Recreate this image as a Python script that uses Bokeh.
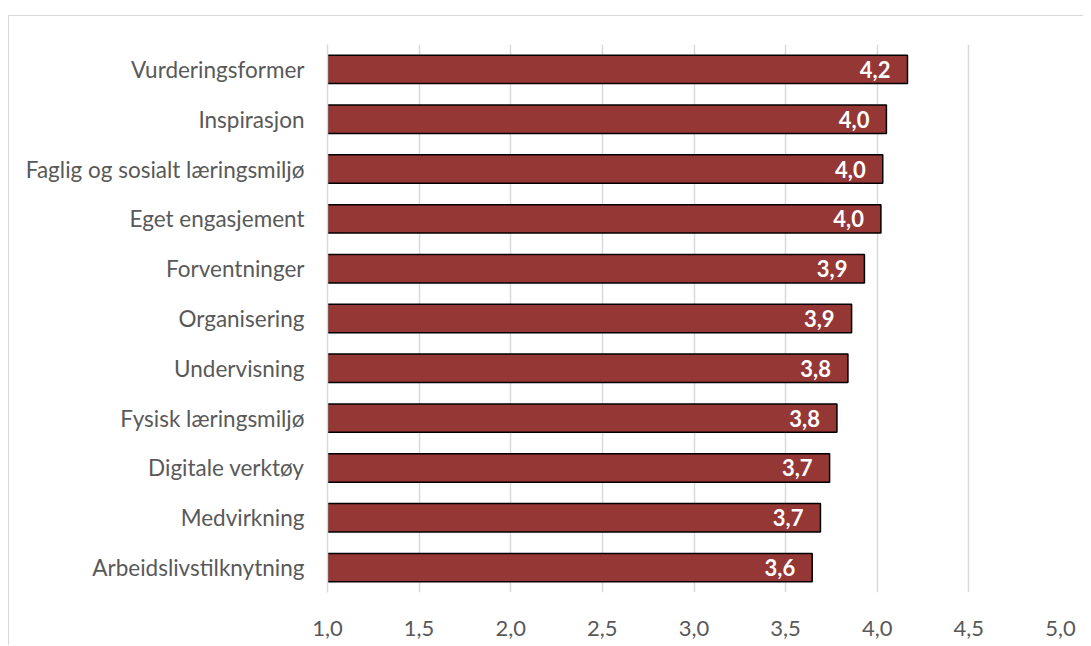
from bokeh.plotting import figure
from bokeh.models import ColumnDataSource, Range1d, FactorRange, SingleIntervalTicker, CustomJSTickFormatter, LabelSet
from bokeh.core.properties import value
from bokeh.embed import file_html
from bokeh.resources import INLINE

categories = ["Vurderingsformer", "Inspirasjon", "Faglig og sosialt læringsmiljø", "Eget engasjement",
              "Forventninger", "Organisering", "Undervisning", "Fysisk læringsmiljø",
              "Digitale verktøy", "Medvirkning", "Arbeidslivstilknytning"]
values = [4.165, 4.05, 4.03, 4.02, 3.93, 3.86, 3.84, 3.78, 3.74, 3.69, 3.645]
labels = [f"{v:.1f}".replace(".", ",") for v in values]

FONT = "Lato"
GRAY = "#595959"

src = ColumnDataSource(dict(cat=categories, val=values, lab=labels))

p = figure(width=1075, height=630, output_backend="svg", toolbar_location=None,
           y_range=FactorRange(*reversed(categories), range_padding=0),
           x_range=Range1d(1.0, 5.0),
           min_border_left=318, min_border_right=24, min_border_top=28, min_border_bottom=54)
p.styles = {"margin-left": "8px", "margin-top": "15px",
            "border-left": "1px solid #d9d9d9", "border-top": "1px solid #d9d9d9"}

p.hbar(y="cat", left=1.0, right="val", height=0.57, source=src,
       fill_color="#953735", line_color="black", line_width=1.5)

p.add_layout(LabelSet(x="val", y="cat", text="lab", source=src, x_offset=-17, y_offset=0,
                      text_align="right", text_baseline="middle", text_color="white",
                      text_font=value(FONT), text_font_style="bold", text_font_size="22px"))

p.xaxis.ticker = SingleIntervalTicker(interval=0.5)
p.xaxis.formatter = CustomJSTickFormatter(code="return tick.toFixed(1).replace('.', ',');")
p.xaxis.axis_line_color = None
p.xaxis.major_tick_line_color = None
p.xaxis.minor_tick_line_color = None
p.xaxis.major_label_standoff = 22
p.xaxis.major_label_text_font = FONT
p.xaxis.major_label_text_font_size = "22px"
p.xaxis.major_label_text_color = GRAY

p.yaxis.axis_line_color = "#d9d9d9"
p.yaxis.axis_line_width = 1.5
p.yaxis.major_tick_line_color = None
p.yaxis.minor_tick_line_color = None
p.yaxis.major_label_standoff = 17
p.yaxis.major_label_text_font = FONT
p.yaxis.major_label_text_font_size = "22.5px"
p.yaxis.major_label_text_color = GRAY

p.xgrid.grid_line_color = "#d9d9d9"
p.xgrid.grid_line_width = 1.5
p.ygrid.grid_line_color = None
p.outline_line_color = None

open("out.html", "w").write(file_html(p, INLINE))
